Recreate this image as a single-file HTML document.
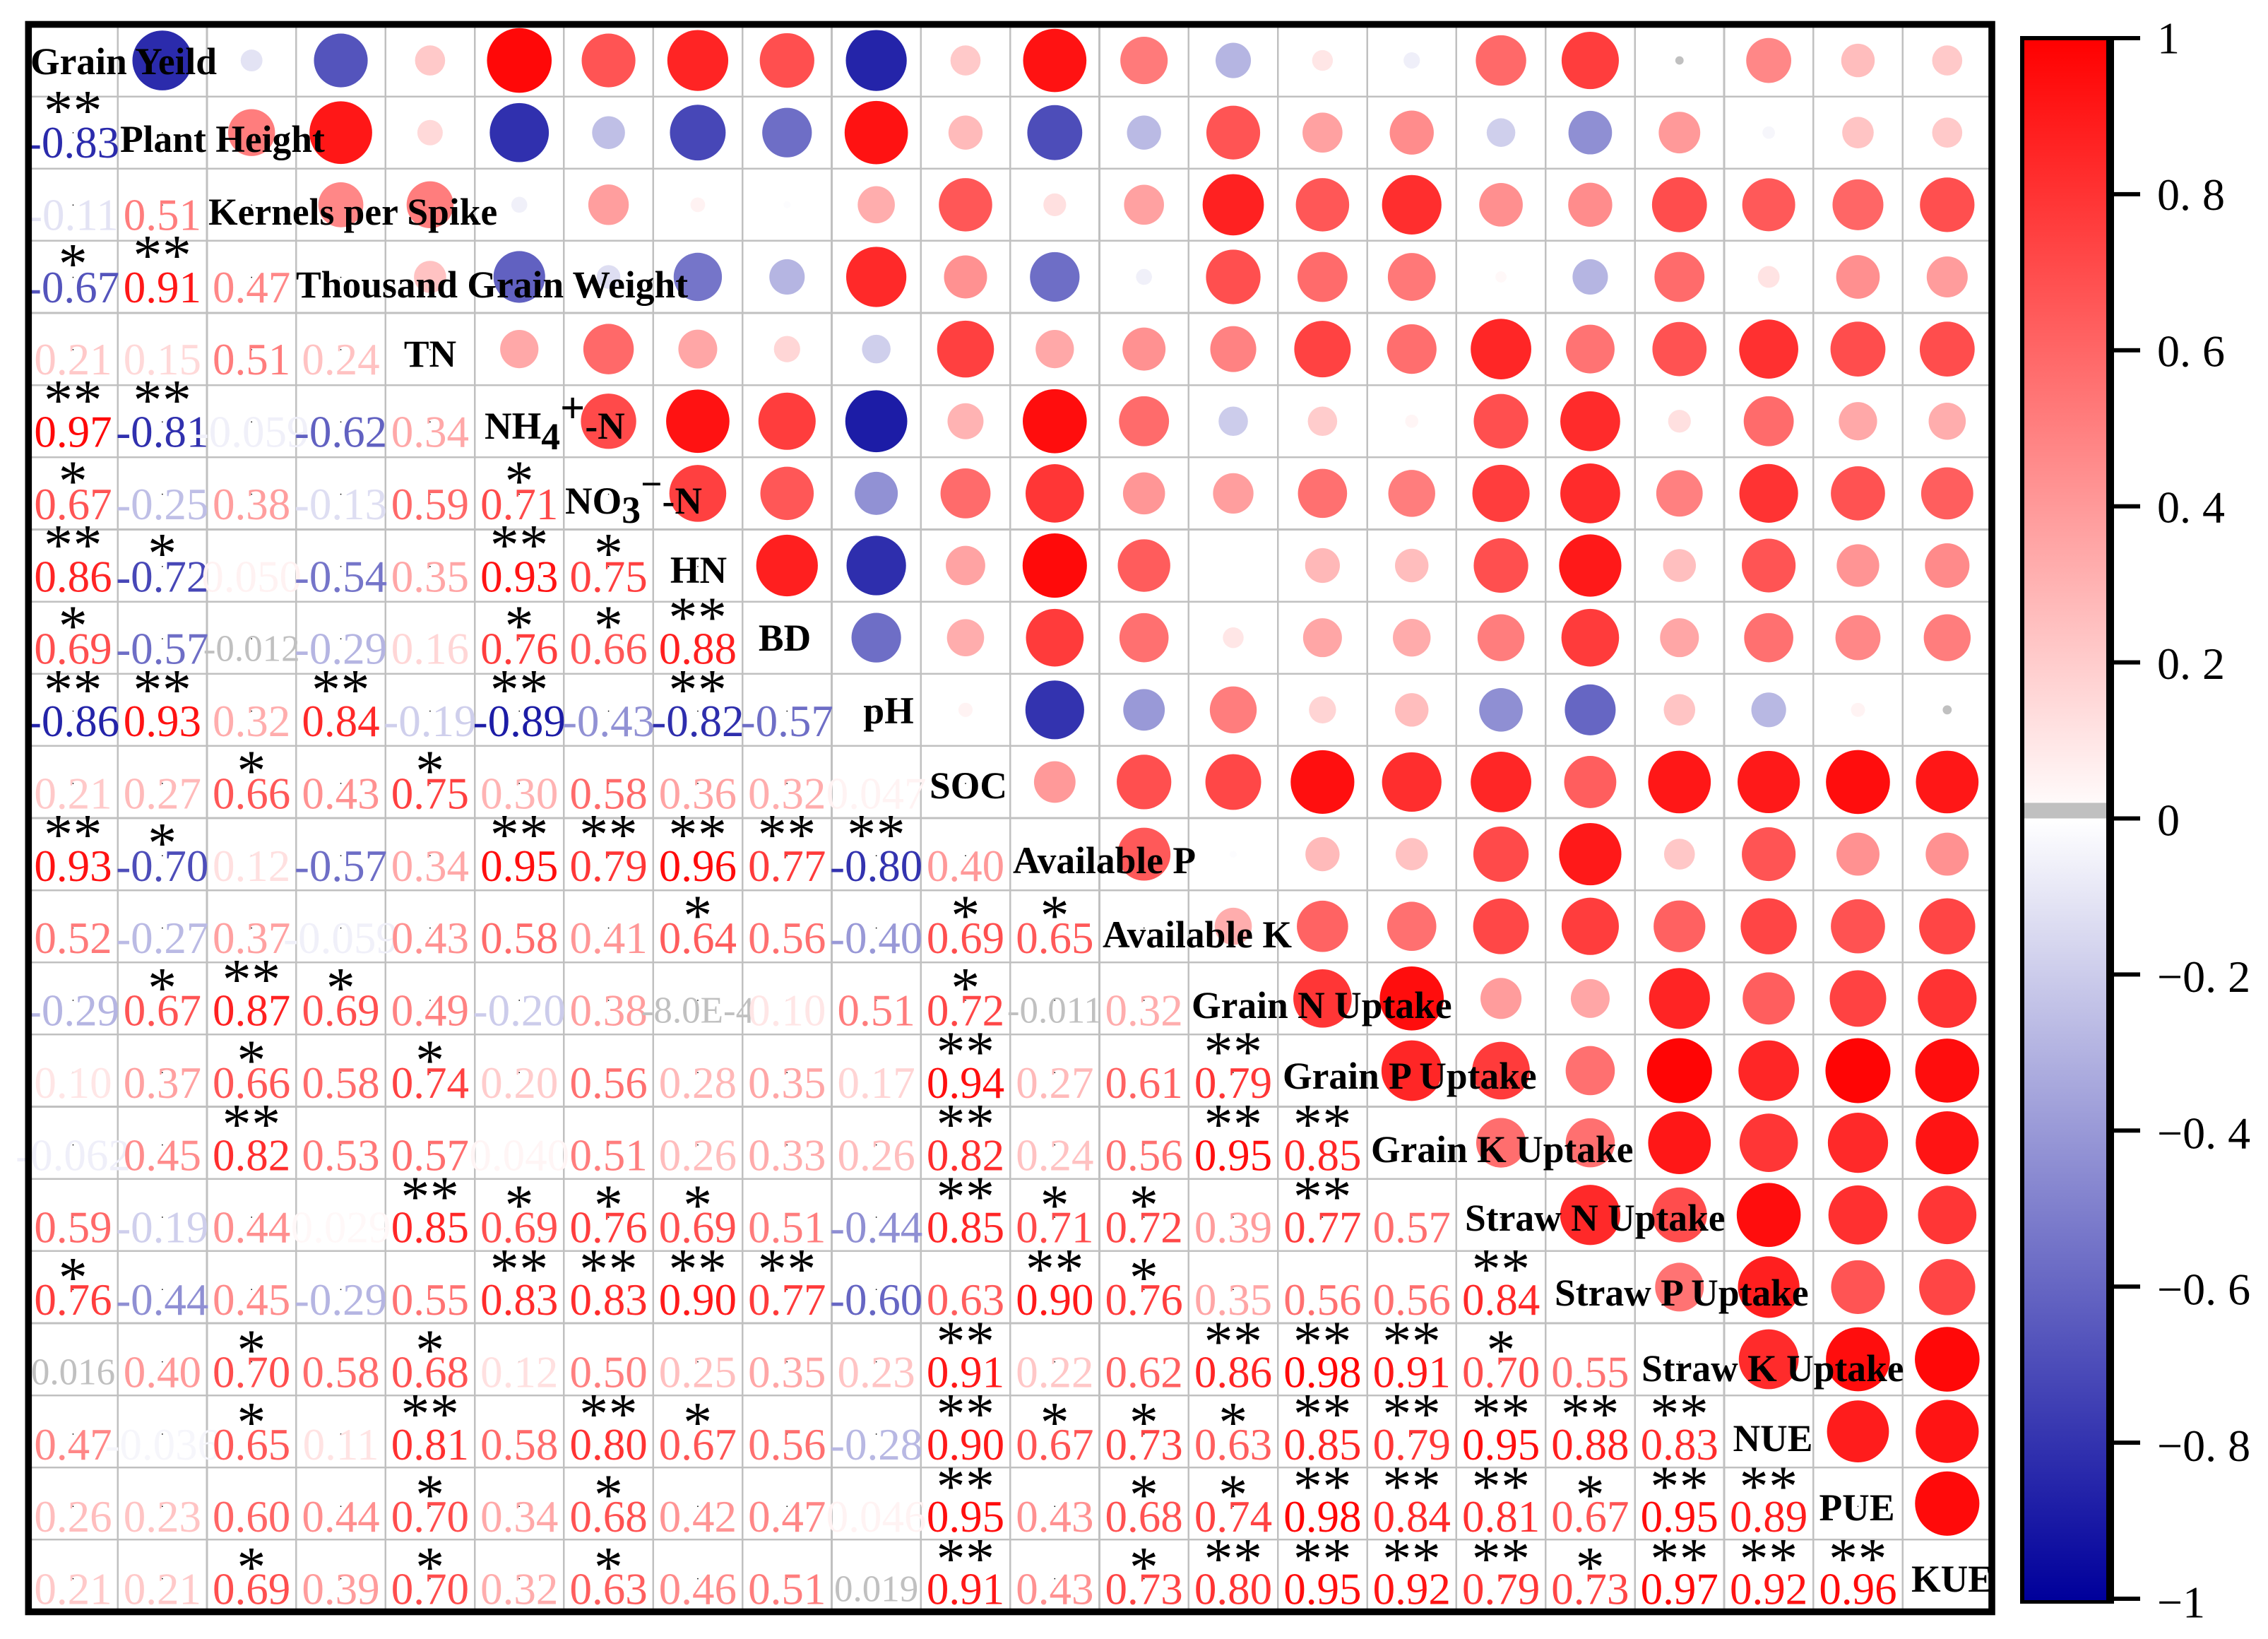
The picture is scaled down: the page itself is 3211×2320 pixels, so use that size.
<!DOCTYPE html>
<html lang="en">
<head>
<meta charset="utf-8">
<title>Correlation matrix</title>
<style>
html,body{margin:0;padding:0;background:#fff;}
svg{display:block;}
text{font-family:"Liberation Serif","Noto Serif CJK SC",serif;}
.diag{font-weight:bold;font-size:53.5px;fill:#000;}
.cell-value{font-size:63px;text-anchor:middle;}
.stars{font-size:82px;text-anchor:middle;letter-spacing:0.5px;fill:#000;}
.tick-label{font-size:64px;fill:#000;}
</style>
</head>
<body>
<svg id="chart" xmlns="http://www.w3.org/2000/svg" width="3211" height="2320" viewBox="0 0 3211 2320">
  <rect x="0" y="0" width="3211" height="2320" fill="#fff"/>
  <g id="grid"></g>
  <g id="circles"></g>
  <g id="dots"></g>
  <g id="values"></g>
  <g id="stars"></g>
  <g id="diagonal">
    <text class="diag" x="43" y="105">Grain Yeild</text>
    <text class="diag" x="170" y="215">Plant Height</text>
    <text class="diag" x="295" y="318">Kernels per Spike</text>
    <text class="diag" x="419" y="421">Thousand Grain Weight</text>
    <text class="diag" x="609" y="519" text-anchor="middle">TN</text>
    <text class="diag" x="686" y="621">NH<tspan dy="15">4</tspan><tspan dy="-38" font-size="62">+</tspan><tspan dy="23">-N</tspan></text>
    <text class="diag" x="800" y="727">NO<tspan dy="13">3</tspan><tspan dy="-37">−</tspan><tspan dy="24">-N</tspan></text>
    <text class="diag" x="989" y="825" text-anchor="middle">HN</text>
    <text class="diag" x="1111" y="921" text-anchor="middle">BD</text>
    <text class="diag" x="1258" y="1024" text-anchor="middle">pH</text>
    <text class="diag" x="1371" y="1130" text-anchor="middle">SOC</text>
    <text class="diag" x="1434" y="1236">Available P</text>
    <text class="diag" x="1561" y="1341">Available K</text>
    <text class="diag" x="1687" y="1441">Grain N Uptake</text>
    <text class="diag" x="1816" y="1541">Grain P Uptake</text>
    <text class="diag" x="1941" y="1645">Grain K Uptake</text>
    <text class="diag" x="2074" y="1742">Straw N Uptake</text>
    <text class="diag" x="2201" y="1848">Straw P Uptake</text>
    <text class="diag" x="2324" y="1955">Straw K Uptake</text>
    <text class="diag" x="2510" y="2054" text-anchor="middle">NUE</text>
    <text class="diag" x="2629" y="2152" text-anchor="middle">PUE</text>
    <text class="diag" x="2764" y="2253" text-anchor="middle">KUE</text>
  </g>
  <rect x="40.3" y="34.5" width="2779.7" height="2247" fill="none" stroke="#000" stroke-width="9.6"/>
  <g id="colorbar"></g>
</svg>
<script>
// Lower triangle of the correlation matrix, row by row (row i has i values).
const correlationRows = [
  [],
  [-0.83],
  [-0.11, 0.51],
  [-0.67, 0.91, 0.47],
  [0.21, 0.15, 0.51, 0.24],
  [0.97, -0.81, -0.059, -0.62, 0.34],
  [0.67, -0.25, 0.38, -0.13, 0.59, 0.71],
  [0.86, -0.72, 0.050, -0.54, 0.35, 0.93, 0.75],
  [0.69, -0.57, -0.012, -0.29, 0.16, 0.76, 0.66, 0.88],
  [-0.86, 0.93, 0.32, 0.84, -0.19, -0.89, -0.43, -0.82, -0.57],
  [0.21, 0.27, 0.66, 0.43, 0.75, 0.30, 0.58, 0.36, 0.32, 0.047],
  [0.93, -0.70, 0.12, -0.57, 0.34, 0.95, 0.79, 0.96, 0.77, -0.80, 0.40],
  [0.52, -0.27, 0.37, -0.059, 0.43, 0.58, 0.41, 0.64, 0.56, -0.40, 0.69, 0.65],
  [-0.29, 0.67, 0.87, 0.69, 0.49, -0.20, 0.38, -0.0008, 0.10, 0.51, 0.72, -0.011, 0.32],
  [0.10, 0.37, 0.66, 0.58, 0.74, 0.20, 0.56, 0.28, 0.35, 0.17, 0.94, 0.27, 0.61, 0.79],
  [-0.062, 0.45, 0.82, 0.53, 0.57, 0.040, 0.51, 0.26, 0.33, 0.26, 0.82, 0.24, 0.56, 0.95, 0.85],
  [0.59, -0.19, 0.44, 0.029, 0.85, 0.69, 0.76, 0.69, 0.51, -0.44, 0.85, 0.71, 0.72, 0.39, 0.77, 0.57],
  [0.76, -0.44, 0.45, -0.29, 0.55, 0.83, 0.83, 0.90, 0.77, -0.60, 0.63, 0.90, 0.76, 0.35, 0.56, 0.56, 0.84],
  [0.016, 0.40, 0.70, 0.58, 0.68, 0.12, 0.50, 0.25, 0.35, 0.23, 0.91, 0.22, 0.62, 0.86, 0.98, 0.91, 0.70, 0.55],
  [0.47, -0.036, 0.65, 0.11, 0.81, 0.58, 0.80, 0.67, 0.56, -0.28, 0.90, 0.67, 0.73, 0.63, 0.85, 0.79, 0.95, 0.88, 0.83],
  [0.26, 0.23, 0.60, 0.44, 0.70, 0.34, 0.68, 0.42, 0.47, 0.046, 0.95, 0.43, 0.68, 0.74, 0.98, 0.84, 0.81, 0.67, 0.95, 0.89],
  [0.21, 0.21, 0.69, 0.39, 0.70, 0.32, 0.63, 0.46, 0.51, 0.019, 0.91, 0.43, 0.73, 0.80, 0.95, 0.92, 0.79, 0.73, 0.97, 0.92, 0.96]
];
// Number of significance stars for each value above.
const significanceRows = [
  [],
  [2],
  [0, 0],
  [1, 2, 0],
  [0, 0, 0, 0],
  [2, 2, 0, 0, 0],
  [1, 0, 0, 0, 0, 1],
  [2, 1, 0, 0, 0, 2, 1],
  [1, 0, 0, 0, 0, 1, 1, 2],
  [2, 2, 0, 2, 0, 2, 0, 2, 0],
  [0, 0, 1, 0, 1, 0, 0, 0, 0, 0],
  [2, 1, 0, 0, 0, 2, 2, 2, 2, 2, 0],
  [0, 0, 0, 0, 0, 0, 0, 1, 0, 0, 1, 1],
  [0, 1, 2, 1, 0, 0, 0, 0, 0, 0, 1, 0, 0],
  [0, 0, 1, 0, 1, 0, 0, 0, 0, 0, 2, 0, 0, 2],
  [0, 0, 2, 0, 0, 0, 0, 0, 0, 0, 2, 0, 0, 2, 2],
  [0, 0, 0, 0, 2, 1, 1, 1, 0, 0, 2, 1, 1, 0, 2, 0],
  [1, 0, 0, 0, 0, 2, 2, 2, 2, 0, 0, 2, 1, 0, 0, 0, 2],
  [0, 0, 1, 0, 1, 0, 0, 0, 0, 0, 2, 0, 0, 2, 2, 2, 1, 0],
  [0, 0, 1, 0, 2, 0, 2, 1, 0, 0, 2, 1, 1, 1, 2, 2, 2, 2, 2],
  [0, 0, 0, 0, 1, 0, 1, 0, 0, 0, 2, 0, 1, 1, 2, 2, 2, 1, 2, 2],
  [0, 0, 1, 0, 1, 0, 1, 0, 0, 0, 2, 0, 1, 2, 2, 2, 2, 1, 2, 2, 2]
];
const colorbarTicks = [1, 0.8, 0.6, 0.4, 0.2, 0, -0.2, -0.4, -0.6, -0.8, -1];
const colorbarTickLabels = ['1', '0. 8', '0. 6', '0. 4', '0. 2', '0', '−0. 2', '−0. 4', '−0. 6', '−0. 8', '−1'];
const neutralBand = [0, 0.02];

const NS = 'http://www.w3.org/2000/svg';
const N = correlationRows.length;
const X0 = 40.3, Y0 = 34.5, CW = (2820 - X0) / N, CH = (2281.5 - Y0) / N;
const MAXR = 46.5;

function xLine(i) { return X0 + i * CW; }
function yLine(i) { return Y0 + i * CH; }
function xCenter(i) { return xLine(i + 0.5); }
function yCenter(i) { return yLine(i + 0.5); }
function radius(v) { return MAXR * Math.sqrt(Math.abs(v)); }
function rampColor(v) {
  const a = Math.min(1, Math.abs(v));
  const k = Math.round(255 * (1 - a));
  if (v > 0) return 'rgb(255,' + k + ',' + k + ')';
  return 'rgb(' + k + ',' + k + ',' + Math.round(255 - 100 * a) + ')';
}
function textColor(v) {
  return Math.abs(v) < neutralBand[1] ? 'rgb(192,192,192)' : rampColor(v);
}
function circleColor(v) {
  return (v >= neutralBand[0] && v < neutralBand[1]) ? 'rgb(192,192,192)' : rampColor(v);
}
function formatValue(v) {
  const a = Math.abs(v);
  if (a < 0.001) return v.toExponential(1).toUpperCase();
  if (a < 0.1) return v.toFixed(3);
  return v.toFixed(2);
}
function make(tag, attrs, parent) {
  const el = document.createElementNS(NS, tag);
  for (const k in attrs) el.setAttribute(k, attrs[k]);
  parent.appendChild(el);
  return el;
}

const gridG = document.getElementById('grid');
for (let i = 1; i < N; i++) {
  const v = make('line', {x1: xLine(i), x2: xLine(i), y1: Y0, y2: yLine(N), stroke: '#c0c0c0', 'stroke-width': 2.6, 'shape-rendering': 'crispEdges'}, gridG);
  
  
  const h = make('line', {x1: X0, x2: xLine(N), y1: yLine(i), y2: yLine(i), stroke: '#c0c0c0', 'stroke-width': 2.6, 'shape-rendering': 'crispEdges'}, gridG);
  
  
}

const circlesG = document.getElementById('circles');
const dotsG = document.getElementById('dots');
const valuesG = document.getElementById('values');
const starsG = document.getElementById('stars');
for (let i = 0; i < N; i++) {
  const dotD = make('rect', {x: xCenter(i) - 0.75, y: yCenter(i) + i * 0.2 - 0.75, width: 1.5, height: 1.5, fill: '#000'}, dotsG);
  
  
  for (let j = 0; j < i; j++) {
    const v = correlationRows[i][j];
    const c = make('circle', {cx: xCenter(i), cy: yCenter(j), r: radius(v), fill: circleColor(v)}, circlesG);
    
    

    const dot = make('rect', {x: xCenter(j) - 0.75, y: yCenter(i) + i * 0.2 - 0.75, width: 1.5, height: 1.5, fill: '#000'}, dotsG);
    
    

    const small = Math.abs(v) < neutralBand[1];
    const t = make('text', {class: 'cell-value', x: xCenter(j), y: yLine(i + 1) - (16 - 5 * i / (N - 1)) - (small ? 4 : 0), fill: textColor(v)}, valuesG);
    if (small) t.style.fontSize = '53px';
    t.textContent = formatValue(v);
    
    

    const s = significanceRows[i][j];
    if (s > 0) {
      const centerY = yLine(i) + (s === 2 ? 8 : 20) + 0.35 * i;
      const st = make('text', {class: 'stars', x: xCenter(j), y: centerY + 0.47 * 82}, starsG);
      st.textContent = s === 2 ? '**' : '*';
      
      
    }
  }
}

// Colour bar
const CB_TOP = 54, CB_BOTTOM = 2263;
function yBar(v) { return CB_TOP + (1 - v) / 2 * (CB_BOTTOM - CB_TOP); }
const cb = document.getElementById('colorbar');
const defs = make('defs', {}, cb);
const grad = make('linearGradient', {id: 'cbGrad', gradientUnits: 'userSpaceOnUse', x1: 0, x2: 0, y1: yBar(1), y2: yBar(-1)}, defs);
make('stop', {offset: 0, 'stop-color': rampColor(1)}, grad);
make('stop', {offset: 0.5, 'stop-color': '#ffffff'}, grad);
make('stop', {offset: 1, 'stop-color': rampColor(-1)}, grad);

const cbFill = make('rect', {x: 2863, y: 54, width: 124, height: 2213.5, fill: 'url(#cbGrad)'}, cb);



const band = make('rect', {x: 2866, y: yBar(neutralBand[1]), width: 116, height: yBar(neutralBand[0]) - yBar(neutralBand[1]), fill: '#c0c0c0'}, cb);



const cbLeft = make('rect', {x: 2860, y: 51, width: 6, height: 2219, fill: '#000'}, cb);


const cbTop = make('rect', {x: 2860, y: 51, width: 133, height: 6, fill: '#000'}, cb);


const cbRight = make('rect', {x: 2982, y: 51, width: 11, height: 2219, fill: '#000'}, cb);


const cbBottom = make('rect', {x: 2860, y: 2265, width: 133, height: 5, fill: '#000'}, cb);



colorbarTicks.forEach(function (v, i) {
  const tick = make('rect', {x: 2993, y: yBar(v) - 3, width: 37, height: 6, fill: '#000'}, cb);
  
  
  const lab = make('text', {class: 'tick-label', x: 3054, y: yBar(v) + (1 - v) * 2.5 + 21.5}, cb);
  lab.textContent = colorbarTickLabels[i];
  
  
});
</script>
</body>
</html>
